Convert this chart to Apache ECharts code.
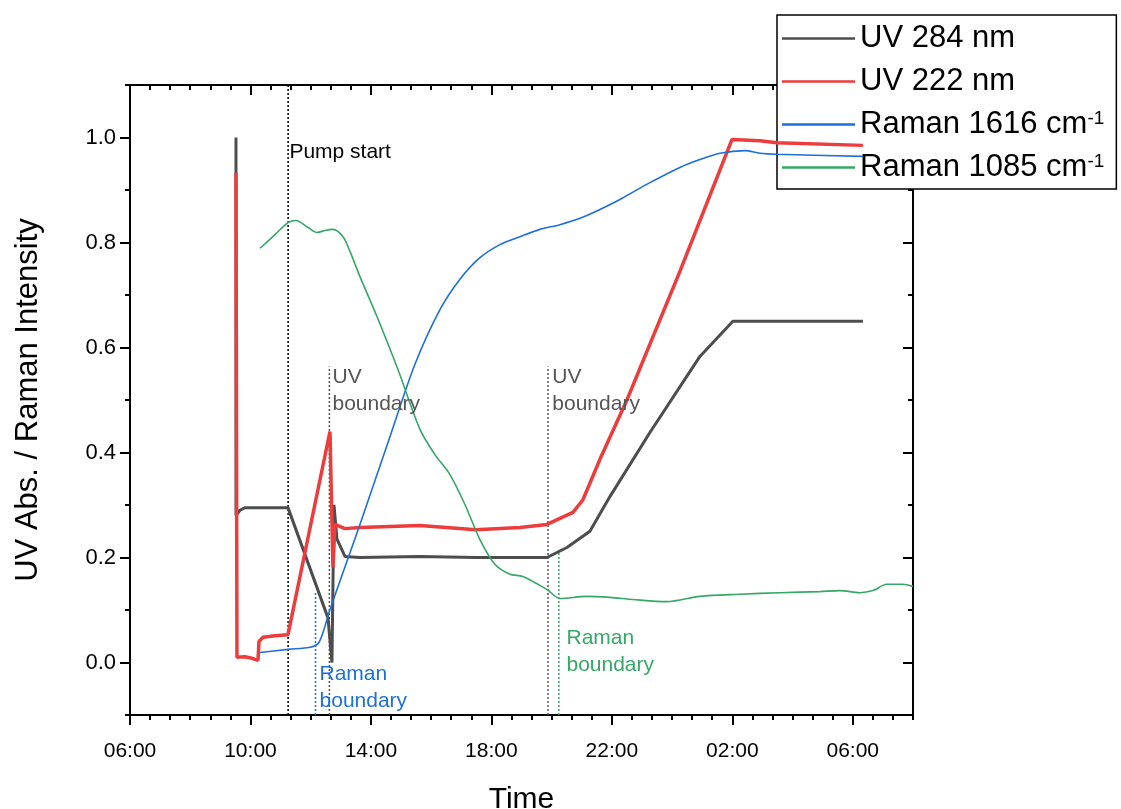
<!DOCTYPE html>
<html><head><meta charset="utf-8">
<script src="https://cdn.jsdelivr.net/npm/echarts@6/dist/echarts.min.js"></script>
<style>html,body{margin:0;padding:0;background:#fff}#c{width:1121px;height:809px}</style>
</head><body><div id="c"></div>
<script>
// ---- data (x = clock hours since 00:00 of day 1; values past 24 are next day) ----
const uv284 = [[9.519,1.0],[9.52,0.28],[9.652,0.29],[9.818,0.295],[11.246,0.295],[12.574,0.085],[12.706,0.0],
  [12.773,0.30],[12.873,0.235],[13.138,0.202],[13.636,0.200],[15.628,0.202],[17.49,0.200],[19.845,0.200],
  [20.509,0.219],[21.272,0.25],[21.936,0.316],[23.264,0.438],[24.924,0.583],[26.02,0.65],[30.336,0.65]];
const uv222 = [[9.519,0.933],[9.552,0.01],[9.818,0.011],[10.05,0.008],[10.25,0.004],[10.283,0.04],[10.416,0.048],
  [10.814,0.051],[11.246,0.053],[12.64,0.44],[12.70,0.44],[12.74,0.181],[12.806,0.263],[13.138,0.255],[13.636,0.257],
  [15.628,0.261],[17.487,0.253],[18.948,0.257],[19.845,0.263],[20.708,0.286],[21.04,0.31],[21.604,0.387],
  [22.5,0.50],[24.26,0.745],[25.987,0.996],[26.917,0.994],[27.48,0.99],[30.336,0.985]];
const raman1616 = [[10.316,0.019],[11.246,0.025],[11.976,0.029],[12.242,0.036],[12.408,0.057],[12.64,0.101],
  [13.636,0.263],[14.632,0.43],[15.462,0.568],[16.292,0.672],[16.956,0.73],[17.62,0.771],[18.284,0.796],
  [18.948,0.811],[19.612,0.825],[20.276,0.834],[20.94,0.846],[21.604,0.863],[22.268,0.882],[23.264,0.914],
  [24.26,0.943],[24.924,0.958],[25.588,0.97],[26.418,0.975],[26.917,0.97],[27.48,0.968],[30.336,0.964]];
const raman1085 = [[10.316,0.789],[10.814,0.815],[11.246,0.838],[11.511,0.842],[11.877,0.830],[12.209,0.819],
  [12.474,0.823],[12.74,0.825],[13.072,0.811],[13.304,0.783],[13.636,0.735],[14.2,0.659],[14.898,0.558],
  [15.628,0.444],[16.126,0.396],[16.624,0.358],[17.122,0.301],[17.62,0.234],[18.118,0.187],[18.616,0.168],
  [19.048,0.164],[19.845,0.139],[20.276,0.122],[21.173,0.126],[21.936,0.124],[22.7,0.12],[23.829,0.116],
  [24.924,0.126],[26.25,0.13],[27.58,0.133],[28.91,0.135],[29.57,0.137],[30.236,0.133],[30.67,0.137],
  [31.13,0.149],[31.66,0.149],[32.0,0.145]];

const seriesNames = ['UV 284 nm','UV 222 nm','Raman 1616 cm-1','Raman 1085 cm-1'];
const seriesColors = ['#4d4d4d','#ee3b3b','#1d6fdc','#35a865'];

// vertical boundary markers: [time, yFrom, yTo]
const pumpStart = [11.25, -0.1, 1.1];
const ramanBoundaryBlue = [12.16, -0.1, 0.133];
const uvBoundary1 = [12.62, -0.1, 0.564];
const uvBoundary2 = [19.88, -0.1, 0.564];
const ramanBoundaryGreen = [20.24, -0.1, 0.215];

// annotation texts: [time, y, text, colour]
const noteTexts = [
  [11.31, 0.996, 'Pump start', '#000000'],
  [12.74, 0.568, 'UV\nboundary', '#555555'],
  [20.04, 0.568, 'UV\nboundary', '#555555'],
  [12.31, 0.003, 'Raman\nboundary', '#1d6fdc'],
  [20.51, 0.071, 'Raman\nboundary', '#35a865']
];

const xRange = [6, 32];
const yRange = [-0.1, 1.1];
const xTickValues = [6, 10, 14, 18, 22, 26, 30];
const xTickLabels = ['06:00','10:00','14:00','18:00','22:00','02:00','06:00'];
const yTickValues = [0, 0.2, 0.4, 0.6, 0.8, 1.0];
const yTickLabels = ['0.0','0.2','0.4','0.6','0.8','1.0'];
const yMinorValues = [-0.1, 0.1, 0.3, 0.5, 0.7, 0.9, 1.1];
const xMinorValues = [];
for (let k = 0; k <= 39; k++) { if (k % 6 !== 0) xMinorValues.push(6 + k * 2 / 3); }

// ---- chart ----
const chart = echarts.init(document.getElementById('c'), null, {renderer: 'canvas'});
const FONT = "'Liberation Sans', Arial, sans-serif";

function xAx(pos, ticks, len, inside, labels) {
  return {
    type: 'value', position: pos, min: xRange[0], max: xRange[1],
    axisLine: {show: true, onZero: false, lineStyle: {color: '#000', width: 2}},
    axisTick: {show: true, inside: inside, length: len, lineStyle: {color: '#000', width: 2}, customValues: ticks},
    axisLabel: labels ? {show: true, customValues: xTickValues, margin: 26, fontSize: 21, fontFamily: FONT, color: '#000',
      formatter: v => { const i = xTickValues.findIndex(t => Math.abs(t - v) < 1e-6); return i >= 0 ? xTickLabels[i] : ''; }}
      : {show: false},
    splitLine: {show: false}, minorTick: {show: false}, minorSplitLine: {show: false}
  };
}
function yAx(pos, ticks, len, inside, labels) {
  return {
    type: 'value', position: pos, min: yRange[0], max: yRange[1],
    axisLine: {show: true, onZero: false, lineStyle: {color: '#000', width: 2}},
    axisTick: {show: true, inside: inside, length: len, lineStyle: {color: '#000', width: 2}, customValues: ticks},
    axisLabel: labels ? {show: true, customValues: yTickValues, margin: 14, fontSize: 22, fontFamily: FONT, color: '#000',
      formatter: v => { const i = yTickValues.findIndex(t => Math.abs(t - v) < 1e-6); return i >= 0 ? yTickLabels[i] : ''; }}
      : {show: false},
    splitLine: {show: false}, minorTick: {show: false}, minorSplitLine: {show: false}
  };
}

const xAxes = [
  xAx('bottom', xTickValues, 10, false, true),
  xAx('bottom', xMinorValues, 5, false, false),
  xAx('top', xTickValues, 10, true, false),
  xAx('top', xMinorValues, 5, true, false)
];
xAxes[0].name = 'Time';
xAxes[0].nameLocation = 'middle';
xAxes[0].nameGap = 70;
xAxes[0].nameTextStyle = {fontSize: 30, fontFamily: FONT, color: '#000'};

const yAxes = [
  yAx('left', yTickValues, 10, false, true),
  yAx('left', yMinorValues, 5, false, false),
  yAx('right', yTickValues, 10, true, false),
  yAx('right', yMinorValues, 5, true, false)
];
yAxes[0].name = 'UV Abs. / Raman Intensity';
yAxes[0].nameLocation = 'middle';
yAxes[0].nameGap = 86;
yAxes[0].nameTextStyle = {fontSize: 31, fontFamily: FONT, color: '#000'};

const dataSets = [uv284, uv222, raman1616, raman1085];
const widths = [3, 3.5, 1.6, 1.6];
const series = dataSets.map((d, i) => ({
  name: seriesNames[i], type: 'line', data: d, symbol: 'none', showSymbol: false,
  smooth: i >= 2 ? 0.3 : false,
  lineStyle: {color: seriesColors[i], width: widths[i]}, itemStyle: {color: seriesColors[i]},
  z: 3 + i, animation: false
}));

const vlines = [
  [pumpStart, '#000000'], [ramanBoundaryBlue, '#1d6fdc'], [uvBoundary1, '#555555'],
  [uvBoundary2, '#555555'], [ramanBoundaryGreen, '#35a865']
];
vlines.forEach(([m, col]) => {
  series.push({
    type: 'line', data: [[m[0], m[1]], [m[0], m[2]]], symbol: 'none', silent: true,
    lineStyle: {color: col, width: 1.5, type: [2, 2]}, z: 2, animation: false
  });
});

series.push({
  type: 'scatter', symbolSize: 1, itemStyle: {color: 'rgba(0,0,0,0)', opacity: 1}, silent: true, animation: false, z: 10,
  data: noteTexts.map(n => ({
    value: [n[0], n[1]],
    label: {show: true, formatter: n[2], position: [0, 0], align: 'left', verticalAlign: 'top',
      color: n[3], fontSize: 21, lineHeight: 27, fontFamily: FONT, textBorderWidth: 0, opacity: 1}
  }))
});

chart.setOption({
  animation: false,
  backgroundColor: '#ffffff',
  grid: {left: 130, right: 208, top: 85, bottom: 94, containLabel: false, outerBoundsMode: 'none'},
  xAxis: xAxes,
  yAxis: yAxes,
  legend: {
    data: seriesNames, orient: 'vertical', left: 777, top: 15,
    icon: 'rect', itemWidth: 73, itemHeight: 2.5, itemGap: 12,
    backgroundColor: '#ffffff', borderColor: '#000', borderWidth: 1.5, borderRadius: 0,
    padding: [8, 12, 6, 5],
    textStyle: {fontSize: 31, fontFamily: FONT, color: '#000',
      rich: {sup: {fontSize: 19, verticalAlign: 'top', lineHeight: 19, fontFamily: FONT, color: '#000'}}},
    formatter: name => name.replace('cm-1', 'cm{sup|-1}'),
    selectedMode: false
  },
  series: series
});
</script></body></html>
